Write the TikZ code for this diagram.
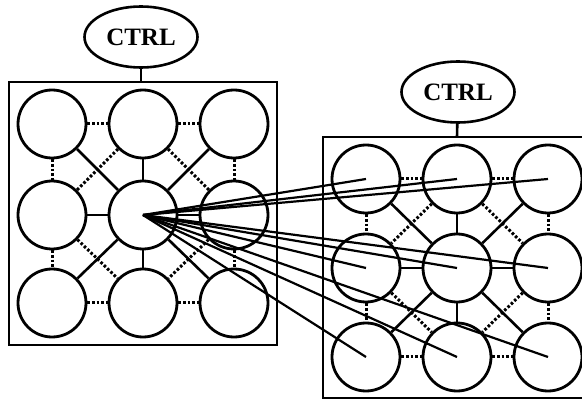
\documentclass[tikz,border=0pt]{standalone}
\usepackage{fontspec}
\setmainfont{Liberation Serif}
\usetikzlibrary{shapes.geometric}
\begin{document}
\begin{tikzpicture}[x=1pt,y=-1pt,
  cell/.style={circle,draw,line width=2.8pt,minimum size=68pt,inner sep=0pt,fill=white},
  ctrl/.style={ellipse,draw,line width=2.6pt,minimum width=113pt,minimum height=61pt,inner sep=0pt,font=\bfseries\fontsize{25}{25}\selectfont},
  frame/.style={draw,line width=2.6pt},
  solidlink/.style={line width=2.6pt},
  dotlink/.style={line width=3pt,dash pattern=on 2.6pt off 2pt},
  fan/.style={line width=2.2pt}]
\useasboundingbox (0,0) rectangle (582,401);
% boxes
\draw[frame] (9,82) rectangle (277,345);
\draw[frame] (323,137) rectangle (586,398);
\coordinate (ltop) at (141,82);
\coordinate (rtop) at (457,137);
% controllers
\node[ctrl] (lc) at (141,37) {CTRL};
\node[ctrl] (rc) at (458,92) {CTRL};
\draw[solidlink] (lc) -- (ltop);
\draw[solidlink] (rc) -- (rtop);
% left grid
\foreach \n/\x/\y in {1/52/124,2/143/124,3/234/124,4/52/215,5/143/215,6/234/215,7/52/303,8/143/303,9/234/303}
  \node[cell] (L\n) at (\x,\y) {};
% right grid
\foreach \n/\x/\y in {1/366/179,2/457/179,3/548/179,4/366/268,5/457/268,6/548/268,7/366/357,8/457/357,9/548/357}
  \node[cell] (R\n) at (\x,\y) {};
% grid links
\foreach \g in {L,R}{
  \foreach \a in {1,2,3,4,6,7,8,9}
    \draw[solidlink] (\g\a) -- (\g5);
  \foreach \a/\b in {1/2,2/3,7/8,8/9,1/4,4/7,3/6,6/9,2/4,2/6,4/8,6/8}
    \draw[dotlink] (\g\a) -- (\g\b);
}
% fan of links
\foreach \a in {1,...,9}
  \draw[fan] (L5.center) -- (R\a.center);
\end{tikzpicture}
\end{document}
